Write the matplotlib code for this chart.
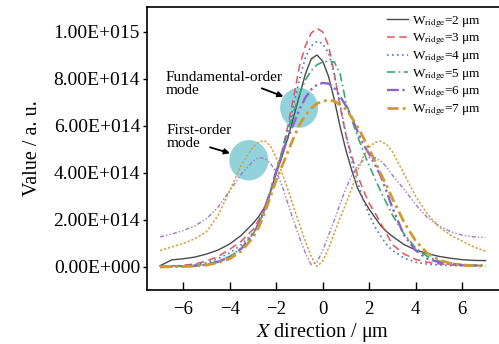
import matplotlib
matplotlib.use("Agg")
import matplotlib.pyplot as plt
from matplotlib.patches import Ellipse
from matplotlib.ticker import FixedLocator, FuncFormatter

plt.rcParams['font.family'] = ['Liberation Serif', 'DejaVu Serif']
plt.rcParams['mathtext.fontset'] = 'stix'

# x positions (um)
x = [-7, -6.5, -6, -5.5, -5, -4.5, -4, -3.5, -3, -2.75, -2.5, -2.25, -2, -1.75, -1.5, -1.25,
     -1, -0.75, -0.5, -0.25, 0, 0.25, 0.5, 0.75, 1, 1.25, 1.5, 1.75, 2, 2.25, 2.5, 2.75,
     3, 3.5, 4, 4.5, 5, 5.5, 6, 6.5, 7]

# fundamental-order mode, values in 1e14 a.u.
w2 = [0.05, 0.30, 0.35, 0.42, 0.55, 0.72, 0.98, 1.35, 1.85, 2.15, 2.55, 3.2, 4.0, 4.7, 5.5, 6.4,
      7.3, 8.2, 8.85, 9.02, 8.75, 8.1, 7.1, 5.95, 4.95, 4.1, 3.35, 2.85, 2.45, 2.1, 1.75, 1.5,
      1.3, 0.95, 0.72, 0.57, 0.45, 0.37, 0.31, 0.28, 0.27]
w3 = [0.02, 0.04, 0.07, 0.13, 0.25, 0.45, 0.75, 1.1, 1.6, 2.0, 2.55, 3.25, 4.1, 4.95, 6.0, 7.25,
      8.55, 9.4, 9.95, 10.15, 10.0, 9.4, 8.2, 6.8, 5.6, 4.7, 3.9, 3.25, 2.7, 2.3, 1.85, 1.4,
      0.95, 0.55, 0.32, 0.2, 0.13, 0.09, 0.07, 0.06, 0.05]
w4 = [0.0, 0.02, 0.05, 0.1, 0.18, 0.35, 0.6, 0.95, 1.45, 1.85, 2.4, 3.15, 4.0, 4.8, 5.8, 6.9,
      8.0, 8.9, 9.4, 9.6, 9.5, 9.1, 8.2, 6.9, 5.6, 4.5, 3.6, 2.85, 2.2, 1.7, 1.3, 0.95,
      0.7, 0.38, 0.2, 0.12, 0.08, 0.06, 0.05, 0.05, 0.05]
w5 = [0.0, 0.02, 0.03, 0.06, 0.12, 0.25, 0.45, 0.8, 1.4, 1.85, 2.45, 3.2, 4.05, 4.9, 5.8, 6.6,
      7.35, 7.95, 8.35, 8.6, 8.72, 8.75, 8.72, 8.2, 7.0, 6.25, 5.55, 4.9, 4.3, 3.75, 3.2, 2.7,
      2.2, 1.4, 0.8, 0.45, 0.25, 0.15, 0.1, 0.08, 0.07]
w6 = [0.0, 0.01, 0.02, 0.05, 0.1, 0.22, 0.42, 0.78, 1.38, 1.85, 2.45, 3.2, 4.1, 4.8, 5.5, 6.1,
      6.7, 7.2, 7.55, 7.75, 7.83, 7.8, 7.6, 7.25, 6.85, 6.35, 5.75, 5.2, 4.8, 4.35, 3.85, 3.2,
      2.5, 1.35, 0.7, 0.35, 0.2, 0.12, 0.08, 0.06, 0.05]
w7 = [0.0, 0.01, 0.02, 0.04, 0.08, 0.18, 0.35, 0.68, 1.25, 1.7, 2.3, 3.0, 3.7, 4.3, 4.9, 5.5,
      6.05, 6.45, 6.75, 6.95, 7.05, 7.1, 7.05, 6.9, 6.7, 6.35, 5.95, 5.5, 5.0, 4.5, 3.95, 3.45,
      2.9, 1.9, 1.1, 0.58, 0.3, 0.15, 0.08, 0.05, 0.04]

# first-order mode (W=6, W=7)
w6_first = [1.28, 1.4, 1.55, 1.75, 2.05, 2.55, 3.25, 3.95, 4.5, 4.65, 4.62, 4.4, 4.05, 3.45, 2.7, 1.95,
            1.25, 0.6, 0.1, 0.2, 0.7, 1.35, 2.0, 2.7, 3.35, 3.9, 4.3, 4.55, 4.65, 4.65, 4.5, 4.25,
            3.9, 3.3, 2.65, 2.1, 1.75, 1.5, 1.35, 1.28, 1.25]
w7_first = [0.7, 0.85, 1.0, 1.2, 1.5, 2.2, 3.25, 4.35, 5.1, 5.32, 5.37, 5.15, 4.65, 4.0, 3.3, 2.55,
            1.8, 1.1, 0.45, 0.02, 0.25, 0.8, 1.45, 2.1, 2.7, 3.35, 4.1, 4.7, 5.1, 5.3, 5.35, 5.2,
            4.9, 3.95, 3.0, 2.25, 1.7, 1.35, 1.1, 0.85, 0.67]

labels = [r'W$_{\rm ridge}$=2 μm', r'W$_{\rm ridge}$=3 μm', r'W$_{\rm ridge}$=4 μm',
          r'W$_{\rm ridge}$=5 μm', r'W$_{\rm ridge}$=6 μm', r'W$_{\rm ridge}$=7 μm']
yticks = [0, 2e14, 4e14, 6e14, 8e14, 1e15]
xticks = [-6, -4, -2, 0, 2, 4, 6]

scale = 1e14
fig = plt.figure(figsize=(4.99, 3.44), dpi=100)
ax = fig.add_axes([147 / 499, 1 - 290 / 344, 352 / 499, 283 / 344])

ax.plot(x, [v * scale for v in w2], color='#4a4a4a', lw=1.0, ls='-', label=labels[0])
ax.plot(x, [v * scale for v in w3], color='#e8525a', lw=1.1, ls=(0, (5, 3)), label=labels[1])
ax.plot(x, [v * scale for v in w4], color='#4a78cc', lw=1.2, ls=(0, (1, 2)), label=labels[2])
ax.plot(x, [v * scale for v in w5], color='#3aa878', lw=1.2, ls=(0, (5, 2, 1, 2)), label=labels[3])
ax.plot(x, [v * scale for v in w6], color='#8a66c6', lw=1.7, ls=(0, (5, 1.5, 1, 1.5, 1, 1.5)), label=labels[4])
ax.plot(x, [v * scale for v in w7], color='#d09a30', lw=2.0, ls=(0, (4, 1.5, 1, 1.5)), label=labels[5])
ax.plot(x, [v * scale for v in w6_first], color='#9a7ad0', lw=1.0, ls=(0, (3, 1.5, 1, 1.5, 1, 1.5)))
ax.plot(x, [v * scale for v in w7_first], color='#d4a040', lw=1.1, ls=(0, (1.5, 1.2)))

# highlight circles
ax.add_patch(Ellipse((-1.02, 6.77e14), 1.63, 1.7e14, color='#92d3db', zorder=1.5, lw=0))
ax.add_patch(Ellipse((-3.18, 4.54e14), 1.68, 1.72e14, color='#92d3db', zorder=1.5, lw=0))

# labels and arrows
ax.text(-6.77, 7.79e14, 'Fundamental-order\nmode', fontsize=11, va='center', ha='left',
        linespacing=1.05)
ax.text(-6.71, 5.53e14, 'First-order\nmode', fontsize=11, va='center', ha='left',
        linespacing=1.05)
arrow = dict(arrowstyle='-|>', color='black', lw=1.3, mutation_scale=8, shrinkA=0, shrinkB=0)
ax.annotate('', xy=(-1.69, 7.25e14), xytext=(-2.62, 7.6e14), arrowprops=arrow)
ax.annotate('', xy=(-3.99, 4.84e14), xytext=(-4.85, 5.09e14), arrowprops=arrow)

ax.set_xlim(-7.56, 7.58)
ax.set_ylim(-0.98e14, 11.06e14)
ax.xaxis.set_major_locator(FixedLocator(xticks))
ax.yaxis.set_major_locator(FixedLocator(yticks))


def sci_fmt(v, pos):
    if v == 0:
        return '0.00E+000'
    e = 0
    m = v
    while abs(m) >= 10:
        m /= 10
        e += 1
    return f'{m:.2f}E+{e:03d}'


ax.yaxis.set_major_formatter(FuncFormatter(sci_fmt))
ax.tick_params(axis='x', direction='in', length=6, width=1.0, labelsize=13.5, pad=8)
ax.tick_params(axis='y', direction='out', length=3, width=1.0, labelsize=14, pad=2)
ax.spines['right'].set_visible(False)
for s in ['left', 'bottom', 'top']:
    ax.spines[s].set_linewidth(1.2)

ax.set_xlabel(r'$\mathit{X}$ direction / μm', fontsize=14.5, labelpad=2)
ax.set_ylabel('Value / a. u.', fontsize=14.5, labelpad=8)

ax.legend(loc='upper right', bbox_to_anchor=(0.95, 0.975), frameon=False, fontsize=9.5,
          handlelength=1.6, handletextpad=0.3, labelspacing=0.15, borderpad=0, borderaxespad=0)

fig.savefig('out.png', dpi=100)
